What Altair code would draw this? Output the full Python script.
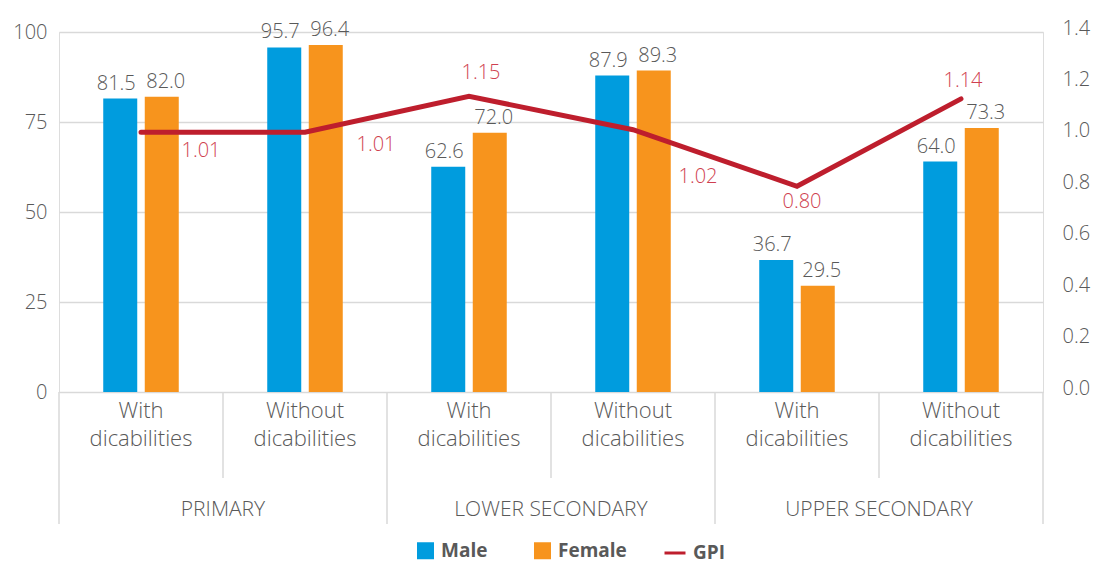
import altair as alt
import pandas as pd

# ---------------- data ----------------
levels = ["PRIMARY", "PRIMARY", "LOWER SECONDARY", "LOWER SECONDARY",
          "UPPER SECONDARY", "UPPER SECONDARY"]
subgroups = ["With", "Without", "With", "Without", "With", "Without"]
cat_labels = ["With\ndicabilities", "Without\ndicabilities",
              "With\ndicabilities", "Without\ndicabilities",
              "With\ndicabilities", "Without\ndicabilities"]
male = [81.5, 95.7, 62.6, 87.9, 36.7, 64.0]
female = [82.0, 96.4, 72.0, 89.3, 29.5, 73.3]
gpi = [1.01, 1.01, 1.15, 1.02, 0.80, 1.14]
genders = ["Male", "Female"]
left_ticks = [0, 25, 50, 75, 100]
right_ticks = [0.0, 0.2, 0.4, 0.6, 0.8, 1.0, 1.2, 1.4]

keys = [f"{l}|{s}" for l, s in zip(levels, subgroups)]

cats = pd.DataFrame({"key": keys, "level": levels, "sub": subgroups,
                     "label": cat_labels, "idx": list(range(len(keys)))})
bars_df = pd.DataFrame(
    [{"key": k, "gender": "Male", "value": v} for k, v in zip(keys, male)]
    + [{"key": k, "gender": "Female", "value": v} for k, v in zip(keys, female)]
)
gpi_df = pd.DataFrame({"key": keys, "gpi": gpi, "series": "GPI",
                       "idx": list(range(len(keys)))})

# ---------------- style ----------------
BLUE = "#009CDE"
ORANGE = "#F7941D"
RED = "#BE1E2D"
RED_TXT = "#CF3F50"
GRAY = "#595959"
GRID = "#D9D9D9"
FONT = "Open Sans"
LIGHT = 300

xscale = alt.Scale(domain=keys, paddingInner=0, paddingOuter=0)
X = alt.X("key:N", scale=xscale, sort=keys,
          axis=alt.Axis(labels=False, ticks=False, title=None, grid=False,
                        domainColor=GRID, domainWidth=2))

legend_common = dict(title=None, orient="none", direction="horizontal",
                     labelFontSize=19, labelFontWeight="bold", labelColor=GRAY,
                     labelFont=FONT, labelOffset=6)
bar_legend = alt.Legend(legendX=357, legendY=509, symbolType="square",
                        symbolSize=289, columnPadding=45, **legend_common)
line_legend = alt.Legend(legendX=604, legendY=509, symbolType="stroke",
                         symbolSize=441, symbolStrokeWidth=3, **legend_common)

Y_left = alt.Y("value:Q", scale=alt.Scale(domain=[0, 100], nice=False),
               axis=alt.Axis(values=left_ticks, grid=True, gridColor=GRID, gridWidth=1.5,
                             domain=False, ticks=False, labelFontSize=20,
                             labelFontWeight=LIGHT,
                             labelColor=GRAY, labelFont=FONT, labelPadding=12,
                             title=None))
XOFF = alt.XOffset("gender:N", sort=genders,
                   scale=alt.Scale(domain=genders, paddingInner=0.05, paddingOuter=1))

bars = alt.Chart(bars_df).mark_bar(width=34).encode(
    x=X, xOffset=XOFF, y=Y_left,
    color=alt.Color("gender:N", sort=genders,
                    scale=alt.Scale(domain=genders, range=[BLUE, ORANGE]),
                    legend=bar_legend),
)
# value labels: slightly pushed apart from each other (style)
bar_texts = []
for g, dx in zip(genders, [-4, 4]):
    bar_texts.append(
        alt.Chart(bars_df).transform_filter(alt.datum.gender == g).mark_text(
            baseline="bottom", dy=-5, dx=dx, fontSize=20, fontWeight=LIGHT,
            color=GRAY, font=FONT
        ).encode(
            x=X, xOffset=XOFF, y=Y_left,
            text=alt.Text("value:Q", format=".1f"),
        )
    )
left_group = alt.layer(bars, *bar_texts)

Y_right = alt.Y("gpi:Q", scale=alt.Scale(domain=[0, 1.4], nice=False),
                axis=alt.Axis(orient="right", values=right_ticks, format=".1f",
                              grid=False, domain=False, ticks=False, labelFontSize=20,
                              labelFontWeight=LIGHT,
                              labelColor=GRAY, labelFont=FONT, labelPadding=19,
                              labelOffset=-4, title=None))

line = alt.Chart(gpi_df).mark_line(strokeWidth=5, strokeCap="round").encode(
    x=X, y=Y_right,
    stroke=alt.Stroke("series:N", scale=alt.Scale(domain=["GPI"], range=[RED]),
                      legend=line_legend),
)
# label offsets for each GPI point (style, not data)
gpi_offsets = [(60, 19), (71, 13), (12, -23), (65, 47), (5, 16), (2, -18)]
gpi_texts = []
for i, (dx, dy) in enumerate(gpi_offsets):
    gpi_texts.append(
        alt.Chart(gpi_df).transform_filter(alt.datum.idx == i).mark_text(
            dx=dx, dy=dy, fontSize=20, fontWeight=LIGHT, color=RED_TXT, font=FONT,
            baseline="middle"
        ).encode(x=X, y=Y_right, text=alt.Text("gpi:Q", format=".2f"))
    )
right_group = alt.layer(line, *gpi_texts)

# hierarchical category axis
cat_text = alt.Chart(cats).mark_text(
    baseline="top", align="center", fontSize=22, fontWeight=LIGHT, lineHeight=28,
    lineBreak="\n", color=GRAY, font=FONT
).encode(x=X, y=alt.value(369), text="label:N")

XB0 = alt.X("key:N", scale=xscale, sort=keys, bandPosition=0, axis=None)
long_rules = alt.Chart(cats).transform_filter(alt.datum.sub == "With").mark_rule(
    color=GRID, strokeWidth=1.5
).encode(x=XB0, y=alt.value(360), y2=alt.value(492))
short_rules = alt.Chart(cats).transform_filter(alt.datum.sub == "Without").mark_rule(
    color=GRID, strokeWidth=1.5
).encode(x=XB0, y=alt.value(360), y2=alt.value(446))
end_rule = alt.Chart(cats).transform_filter(alt.datum.idx == len(keys) - 1).mark_rule(
    color=GRID, strokeWidth=1.5
).encode(x=alt.X("key:N", scale=xscale, sort=keys, bandPosition=1, axis=None),
         y=alt.value(360), y2=alt.value(492))
level_text = alt.Chart(cats).transform_filter(alt.datum.sub == "Without").mark_text(
    baseline="middle", align="center", fontSize=21, fontWeight=LIGHT, color=GRAY,
    font=FONT
).encode(x=XB0, y=alt.value(478), text="level:N")

chart = alt.layer(
    left_group, right_group, cat_text, long_rules, short_rules, end_rule, level_text
).resolve_scale(y="independent").properties(
    width=984, height=360,
    padding={"left": 51, "top": 24, "right": 48, "bottom": 172},
    autosize=alt.AutoSizeParams(type="none"),
).configure_view(stroke=None).configure(font=FONT)

chart.save("out.html", embed_options={"renderer": "svg", "actions": False})
